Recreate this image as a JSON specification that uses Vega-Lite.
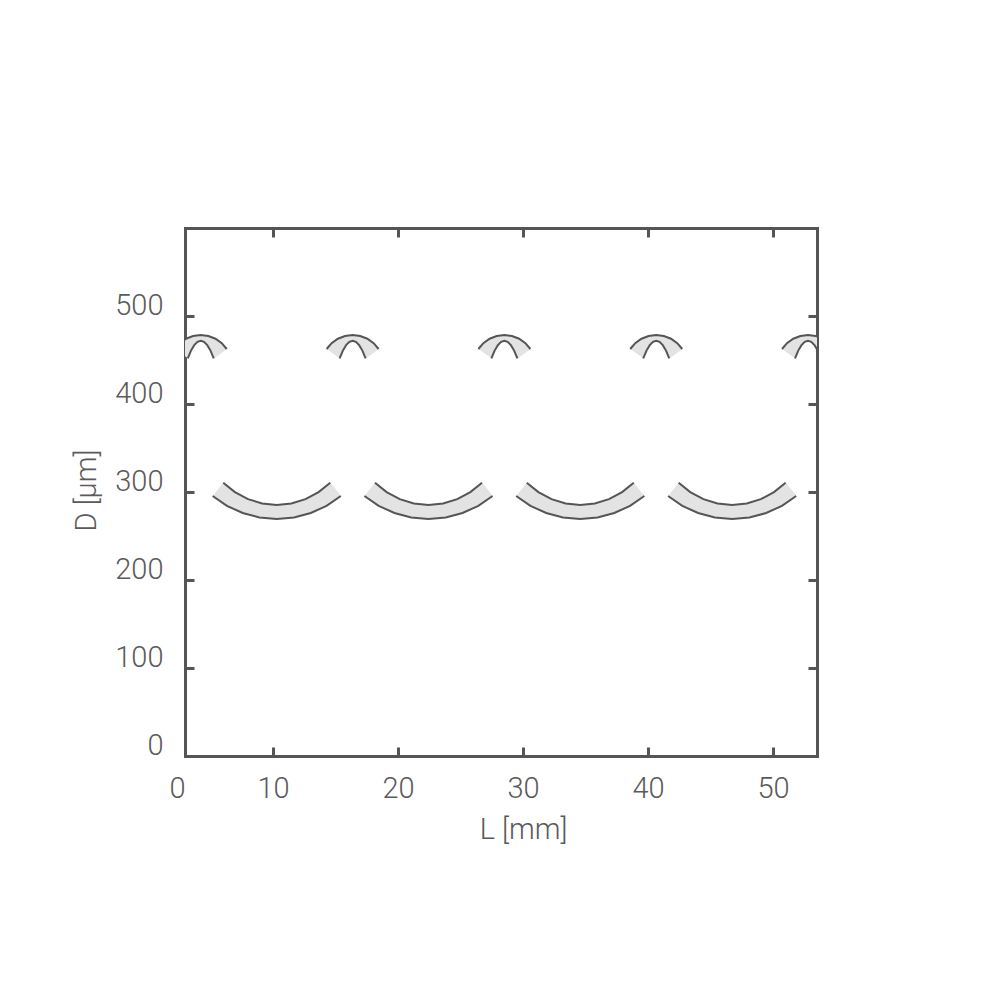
{
  "$schema": "https://vega.github.io/schema/vega-lite/v6.json",
  "width": 632,
  "height": 528,
  "autosize": {"type": "none"},
  "padding": {"left": 185, "top": 228, "right": 183, "bottom": 244},
  "background": "white",
  "config": {
    "view": {"stroke": null},
    "axis": {
      "grid": false,
      "domainColor": "#555555",
      "domainWidth": 3,
      "domainCap": "square",
      "tickColor": "#555555",
      "tickWidth": 3,
      "tickSize": -9,
      "labelFont": "Roboto",
      "labelFontWeight": 300,
      "labelFontSize": 29,
      "labelColor": "#5a5a5a",
      "titleFont": "Roboto",
      "titleFontWeight": 300,
      "titleFontSize": 29,
      "titleColor": "#5a5a5a",
      "zindex": 1
    }
  },
  "data": {
    "values": [
      {"s":"a1","e":"o","k":0,"x":2.14,"y":462.5},{"s":"a1","e":"o","k":1,"x":2.538,"y":469.1},{"s":"a1","e":"o","k":2,"x":3.039,"y":474.2},{"s":"a1","e":"o","k":3,"x":3.611,"y":477.3},{"s":"a1","e":"o","k":4,"x":4.22,"y":478.4},{"s":"a1","e":"o","k":5,"x":4.829,"y":477.3},{"s":"a1","e":"o","k":6,"x":5.401,"y":474.2},{"s":"a1","e":"o","k":7,"x":5.902,"y":469.1},{"s":"a1","e":"o","k":8,"x":6.30,"y":462.5},
      {"s":"a1","e":"i","k":9,"x":5.26,"y":451.9},{"s":"a1","e":"i","k":10,"x":5.00,"y":460.7},{"s":"a1","e":"i","k":11,"x":4.74,"y":466.9},{"s":"a1","e":"i","k":12,"x":4.48,"y":470.7},{"s":"a1","e":"i","k":13,"x":4.22,"y":471.9},{"s":"a1","e":"i","k":14,"x":3.96,"y":470.7},{"s":"a1","e":"i","k":15,"x":3.70,"y":466.9},{"s":"a1","e":"i","k":16,"x":3.44,"y":460.7},{"s":"a1","e":"i","k":17,"x":3.18,"y":451.9},

      {"s":"a2","e":"o","k":0,"x":14.29,"y":462.5},{"s":"a2","e":"o","k":1,"x":14.688,"y":469.1},{"s":"a2","e":"o","k":2,"x":15.189,"y":474.2},{"s":"a2","e":"o","k":3,"x":15.761,"y":477.3},{"s":"a2","e":"o","k":4,"x":16.37,"y":478.4},{"s":"a2","e":"o","k":5,"x":16.979,"y":477.3},{"s":"a2","e":"o","k":6,"x":17.551,"y":474.2},{"s":"a2","e":"o","k":7,"x":18.052,"y":469.1},{"s":"a2","e":"o","k":8,"x":18.45,"y":462.5},
      {"s":"a2","e":"i","k":9,"x":17.41,"y":451.9},{"s":"a2","e":"i","k":10,"x":17.15,"y":460.7},{"s":"a2","e":"i","k":11,"x":16.89,"y":466.9},{"s":"a2","e":"i","k":12,"x":16.63,"y":470.7},{"s":"a2","e":"i","k":13,"x":16.37,"y":471.9},{"s":"a2","e":"i","k":14,"x":16.11,"y":470.7},{"s":"a2","e":"i","k":15,"x":15.85,"y":466.9},{"s":"a2","e":"i","k":16,"x":15.59,"y":460.7},{"s":"a2","e":"i","k":17,"x":15.33,"y":451.9},

      {"s":"a3","e":"o","k":0,"x":26.43,"y":462.5},{"s":"a3","e":"o","k":1,"x":26.828,"y":469.1},{"s":"a3","e":"o","k":2,"x":27.329,"y":474.2},{"s":"a3","e":"o","k":3,"x":27.901,"y":477.3},{"s":"a3","e":"o","k":4,"x":28.51,"y":478.4},{"s":"a3","e":"o","k":5,"x":29.119,"y":477.3},{"s":"a3","e":"o","k":6,"x":29.691,"y":474.2},{"s":"a3","e":"o","k":7,"x":30.192,"y":469.1},{"s":"a3","e":"o","k":8,"x":30.59,"y":462.5},
      {"s":"a3","e":"i","k":9,"x":29.55,"y":451.9},{"s":"a3","e":"i","k":10,"x":29.29,"y":460.7},{"s":"a3","e":"i","k":11,"x":29.03,"y":466.9},{"s":"a3","e":"i","k":12,"x":28.77,"y":470.7},{"s":"a3","e":"i","k":13,"x":28.51,"y":471.9},{"s":"a3","e":"i","k":14,"x":28.25,"y":470.7},{"s":"a3","e":"i","k":15,"x":27.99,"y":466.9},{"s":"a3","e":"i","k":16,"x":27.73,"y":460.7},{"s":"a3","e":"i","k":17,"x":27.47,"y":451.9},

      {"s":"a4","e":"o","k":0,"x":38.58,"y":462.5},{"s":"a4","e":"o","k":1,"x":38.978,"y":469.1},{"s":"a4","e":"o","k":2,"x":39.479,"y":474.2},{"s":"a4","e":"o","k":3,"x":40.051,"y":477.3},{"s":"a4","e":"o","k":4,"x":40.66,"y":478.4},{"s":"a4","e":"o","k":5,"x":41.269,"y":477.3},{"s":"a4","e":"o","k":6,"x":41.841,"y":474.2},{"s":"a4","e":"o","k":7,"x":42.342,"y":469.1},{"s":"a4","e":"o","k":8,"x":42.74,"y":462.5},
      {"s":"a4","e":"i","k":9,"x":41.70,"y":451.9},{"s":"a4","e":"i","k":10,"x":41.44,"y":460.7},{"s":"a4","e":"i","k":11,"x":41.18,"y":466.9},{"s":"a4","e":"i","k":12,"x":40.92,"y":470.7},{"s":"a4","e":"i","k":13,"x":40.66,"y":471.9},{"s":"a4","e":"i","k":14,"x":40.40,"y":470.7},{"s":"a4","e":"i","k":15,"x":40.14,"y":466.9},{"s":"a4","e":"i","k":16,"x":39.88,"y":460.7},{"s":"a4","e":"i","k":17,"x":39.62,"y":451.9},

      {"s":"a5","e":"o","k":0,"x":50.72,"y":462.5},{"s":"a5","e":"o","k":1,"x":51.118,"y":469.1},{"s":"a5","e":"o","k":2,"x":51.619,"y":474.2},{"s":"a5","e":"o","k":3,"x":52.191,"y":477.3},{"s":"a5","e":"o","k":4,"x":52.80,"y":478.4},{"s":"a5","e":"o","k":5,"x":53.409,"y":477.3},{"s":"a5","e":"o","k":6,"x":53.981,"y":474.2},{"s":"a5","e":"o","k":7,"x":54.482,"y":469.1},{"s":"a5","e":"o","k":8,"x":54.88,"y":462.5},
      {"s":"a5","e":"i","k":9,"x":53.84,"y":451.9},{"s":"a5","e":"i","k":10,"x":53.58,"y":460.7},{"s":"a5","e":"i","k":11,"x":53.32,"y":466.9},{"s":"a5","e":"i","k":12,"x":53.06,"y":470.7},{"s":"a5","e":"i","k":13,"x":52.80,"y":471.9},{"s":"a5","e":"i","k":14,"x":52.54,"y":470.7},{"s":"a5","e":"i","k":15,"x":52.28,"y":466.9},{"s":"a5","e":"i","k":16,"x":52.02,"y":460.7},{"s":"a5","e":"i","k":17,"x":51.76,"y":451.9},

      {"s":"b1","e":"o","k":0,"x":5.175,"y":295.5},{"s":"b1","e":"o","k":1,"x":6.316,"y":284.3},{"s":"b1","e":"o","k":2,"x":7.577,"y":276.1},{"s":"b1","e":"o","k":3,"x":8.918,"y":271.0},{"s":"b1","e":"o","k":4,"x":10.30,"y":269.3},{"s":"b1","e":"o","k":5,"x":11.682,"y":271.0},{"s":"b1","e":"o","k":6,"x":13.023,"y":276.1},{"s":"b1","e":"o","k":7,"x":14.284,"y":284.3},{"s":"b1","e":"o","k":8,"x":15.425,"y":295.5},
      {"s":"b1","e":"i","k":9,"x":14.58,"y":310.5},{"s":"b1","e":"i","k":10,"x":13.648,"y":299.9},{"s":"b1","e":"i","k":11,"x":12.599,"y":291.9},{"s":"b1","e":"i","k":12,"x":11.47,"y":287.0},{"s":"b1","e":"i","k":13,"x":10.30,"y":285.3},{"s":"b1","e":"i","k":14,"x":9.13,"y":287.0},{"s":"b1","e":"i","k":15,"x":8.001,"y":291.9},{"s":"b1","e":"i","k":16,"x":6.952,"y":299.9},{"s":"b1","e":"i","k":17,"x":6.02,"y":310.5},

      {"s":"b2","e":"o","k":0,"x":17.315,"y":295.5},{"s":"b2","e":"o","k":1,"x":18.456,"y":284.3},{"s":"b2","e":"o","k":2,"x":19.717,"y":276.1},{"s":"b2","e":"o","k":3,"x":21.058,"y":271.0},{"s":"b2","e":"o","k":4,"x":22.44,"y":269.3},{"s":"b2","e":"o","k":5,"x":23.822,"y":271.0},{"s":"b2","e":"o","k":6,"x":25.163,"y":276.1},{"s":"b2","e":"o","k":7,"x":26.424,"y":284.3},{"s":"b2","e":"o","k":8,"x":27.565,"y":295.5},
      {"s":"b2","e":"i","k":9,"x":26.72,"y":310.5},{"s":"b2","e":"i","k":10,"x":25.788,"y":299.9},{"s":"b2","e":"i","k":11,"x":24.739,"y":291.9},{"s":"b2","e":"i","k":12,"x":23.61,"y":287.0},{"s":"b2","e":"i","k":13,"x":22.44,"y":285.3},{"s":"b2","e":"i","k":14,"x":21.27,"y":287.0},{"s":"b2","e":"i","k":15,"x":20.141,"y":291.9},{"s":"b2","e":"i","k":16,"x":19.092,"y":299.9},{"s":"b2","e":"i","k":17,"x":18.16,"y":310.5},

      {"s":"b3","e":"o","k":0,"x":29.455,"y":295.5},{"s":"b3","e":"o","k":1,"x":30.596,"y":284.3},{"s":"b3","e":"o","k":2,"x":31.857,"y":276.1},{"s":"b3","e":"o","k":3,"x":33.198,"y":271.0},{"s":"b3","e":"o","k":4,"x":34.58,"y":269.3},{"s":"b3","e":"o","k":5,"x":35.962,"y":271.0},{"s":"b3","e":"o","k":6,"x":37.303,"y":276.1},{"s":"b3","e":"o","k":7,"x":38.564,"y":284.3},{"s":"b3","e":"o","k":8,"x":39.705,"y":295.5},
      {"s":"b3","e":"i","k":9,"x":38.86,"y":310.5},{"s":"b3","e":"i","k":10,"x":37.928,"y":299.9},{"s":"b3","e":"i","k":11,"x":36.879,"y":291.9},{"s":"b3","e":"i","k":12,"x":35.75,"y":287.0},{"s":"b3","e":"i","k":13,"x":34.58,"y":285.3},{"s":"b3","e":"i","k":14,"x":33.41,"y":287.0},{"s":"b3","e":"i","k":15,"x":32.281,"y":291.9},{"s":"b3","e":"i","k":16,"x":31.232,"y":299.9},{"s":"b3","e":"i","k":17,"x":30.30,"y":310.5},

      {"s":"b4","e":"o","k":0,"x":41.605,"y":295.5},{"s":"b4","e":"o","k":1,"x":42.746,"y":284.3},{"s":"b4","e":"o","k":2,"x":44.007,"y":276.1},{"s":"b4","e":"o","k":3,"x":45.348,"y":271.0},{"s":"b4","e":"o","k":4,"x":46.73,"y":269.3},{"s":"b4","e":"o","k":5,"x":48.112,"y":271.0},{"s":"b4","e":"o","k":6,"x":49.453,"y":276.1},{"s":"b4","e":"o","k":7,"x":50.714,"y":284.3},{"s":"b4","e":"o","k":8,"x":51.855,"y":295.5},
      {"s":"b4","e":"i","k":9,"x":51.01,"y":310.5},{"s":"b4","e":"i","k":10,"x":50.078,"y":299.9},{"s":"b4","e":"i","k":11,"x":49.029,"y":291.9},{"s":"b4","e":"i","k":12,"x":47.90,"y":287.0},{"s":"b4","e":"i","k":13,"x":46.73,"y":285.3},{"s":"b4","e":"i","k":14,"x":45.56,"y":287.0},{"s":"b4","e":"i","k":15,"x":44.431,"y":291.9},{"s":"b4","e":"i","k":16,"x":43.382,"y":299.9},{"s":"b4","e":"i","k":17,"x":42.45,"y":310.5}
    ]
  },
  "resolve": {"axis": {"x": "independent", "y": "independent"}},
  "layer": [
    {
      "mark": {"type": "line", "fill": "#e3e3e3", "stroke": "#e3e3e3", "strokeWidth": 0.5, "clip": true},
      "encoding": {
        "x": {
          "field": "x", "type": "quantitative",
          "scale": {"domain": [2.96, 53.52], "nice": false, "zero": false},
          "axis": {
            "orient": "bottom",
            "values": [2.96, 10, 20, 30, 40, 50],
            "labelExpr": "datum.value < 5 ? '0' : datum.label",
            "labelAlign": {"condition": {"test": "datum.value < 5", "value": "right"}, "value": "center"},
            "labelFlush": false,
            "labelPadding": 27,
            "title": "L [mm]",
            "titleX": 338,
            "titleY": 82,
            "titleAlign": "center",
            "titleBaseline": "alphabetic"
          }
        },
        "y": {
          "field": "y", "type": "quantitative",
          "scale": {"domain": [0, 600], "nice": false, "zero": false},
          "axis": {
            "orient": "left",
            "values": [0, 100, 200, 300, 400, 500],
            "labelBaseline": "alphabetic",
            "labelOffset": -2,
            "labelPadding": 31,
            "title": "D [μm]",
            "titleX": -90,
            "titleY": 262,
            "titleAngle": -90,
            "titleAlign": "center",
            "titleBaseline": "alphabetic"
          }
        },
        "detail": {"field": "s"},
        "order": {"field": "k", "type": "quantitative"}
      }
    },
    {
      "mark": {"type": "line", "stroke": "#555555", "strokeWidth": 2, "clip": true},
      "encoding": {
        "x": {
          "field": "x", "type": "quantitative",
          "axis": {"orient": "top", "values": [10, 20, 30, 40, 50], "labels": false, "title": null}
        },
        "y": {
          "field": "y", "type": "quantitative",
          "axis": {"orient": "right", "values": [100, 200, 300, 400, 500], "labels": false, "title": null}
        },
        "detail": [{"field": "s"}, {"field": "e"}],
        "order": {"field": "k", "type": "quantitative"}
      }
    }
  ]
}
